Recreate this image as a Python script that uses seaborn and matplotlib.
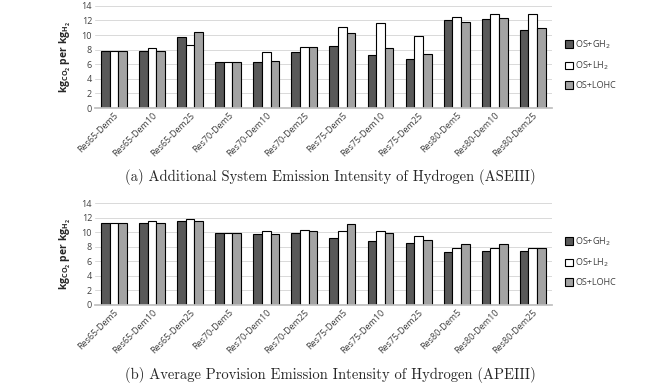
import numpy as np
import pandas as pd
import matplotlib
matplotlib.use("Agg")
import matplotlib.pyplot as plt
import seaborn as sns

categories = ["Res65-Dem5", "Res65-Dem10", "Res65-Dem25",
              "Res70-Dem5", "Res70-Dem10", "Res70-Dem25",
              "Res75-Dem5", "Res75-Dem10", "Res75-Dem25",
              "Res80-Dem5", "Res80-Dem10", "Res80-Dem25"]
series = ["OS+GH$_2$", "OS+LH$_2$", "OS+LOHC"]

# (a) ASEIH
ase_gh2 = [7.82, 7.80, 9.74, 6.36, 6.31, 7.73, 8.50, 7.27, 6.77, 12.08, 12.21, 10.70]
ase_lh2 = [7.82, 8.19, 8.65, 6.36, 7.73, 8.33, 11.10, 11.67, 9.88, 12.49, 12.85, 12.85]
ase_lohc = [7.82, 7.87, 10.38, 6.36, 6.45, 8.33, 10.30, 8.19, 7.36, 11.76, 12.30, 10.93]

# (b) APEIH
ape_gh2 = [11.32, 11.23, 11.50, 9.90, 9.82, 9.95, 9.27, 8.86, 8.59, 7.27, 7.45, 7.36]
ape_lh2 = [11.32, 11.60, 11.86, 9.90, 10.23, 10.36, 10.23, 10.14, 9.55, 7.90, 7.90, 7.90]
ape_lohc = [11.32, 11.23, 11.60, 9.90, 9.82, 10.23, 11.18, 9.95, 9.00, 8.32, 8.45, 7.90]

captions = ["(a) Additional System Emission Intensity of Hydrogen (ASEIII)",
            "(b) Average Provision Emission Intensity of Hydrogen (APEIII)"]

colors = ["#595959", "#ffffff", "#a3a3a3"]


def long_df(a, b, c):
    return pd.DataFrame({
        "cat": categories * 3,
        "series": [series[0]] * 12 + [series[1]] * 12 + [series[2]] * 12,
        "val": list(a) + list(b) + list(c),
    })


sns.set_theme(style="white")
plt.rcParams["font.family"] = ["Open Sans", "DejaVu Sans"]

fig = plt.figure(figsize=(6.5, 3.9), dpi=100)
ax1 = fig.add_axes([0.146, 0.723, 0.703, 0.262])
ax2 = fig.add_axes([0.146, 0.218, 0.703, 0.261])

for ax, data, cap, cy in [(ax1, long_df(ase_gh2, ase_lh2, ase_lohc), captions[0], 0.525),
                          (ax2, long_df(ape_gh2, ape_lh2, ape_lohc), captions[1], 0.018)]:
    sns.barplot(data=data, x="cat", y="val", hue="series", palette=colors,
                width=0.68, gap=0, edgecolor="black", linewidth=0.8, ax=ax,
                saturation=1)
    ax.set_ylim(0, 14)
    ax.set_yticks(np.arange(0, 15, 2))
    ax.yaxis.grid(True, color="#d9d9d9", linewidth=0.7)
    ax.set_axisbelow(True)
    for s in ["top", "right", "left"]:
        ax.spines[s].set_visible(False)
    ax.spines["bottom"].set_color("#bfbfbf")
    ax.tick_params(axis="both", labelsize=6.5, colors="#404040", length=0, pad=2)
    ax.set_xticks(range(len(categories)))
    ax.set_xticklabels(categories, rotation=45, ha="right", rotation_mode="anchor")
    ax.set_xlabel("")
    ax.set_ylabel("kg$_{\\mathregular{CO_2}}$ per kg$_{\\mathregular{H_2}}$", fontsize=7.5,
                  fontweight="bold", color="#262626", labelpad=6)
    ax.set_xlim(-0.5, 11.5)
    leg = ax.legend(loc="center left", bbox_to_anchor=(1.02, 0.43), frameon=False,
                    fontsize=6.5, handlelength=0.9, handleheight=0.9,
                    labelspacing=1.0, handletextpad=0.3, borderaxespad=0)
    for t in leg.get_texts():
        t.set_color("#404040")
    fig.text(0.508, cy, cap, ha="center", va="bottom", fontsize=10.5,
             family=["cmr10", "DejaVu Serif"])

fig.savefig("out.png", dpi=100)
